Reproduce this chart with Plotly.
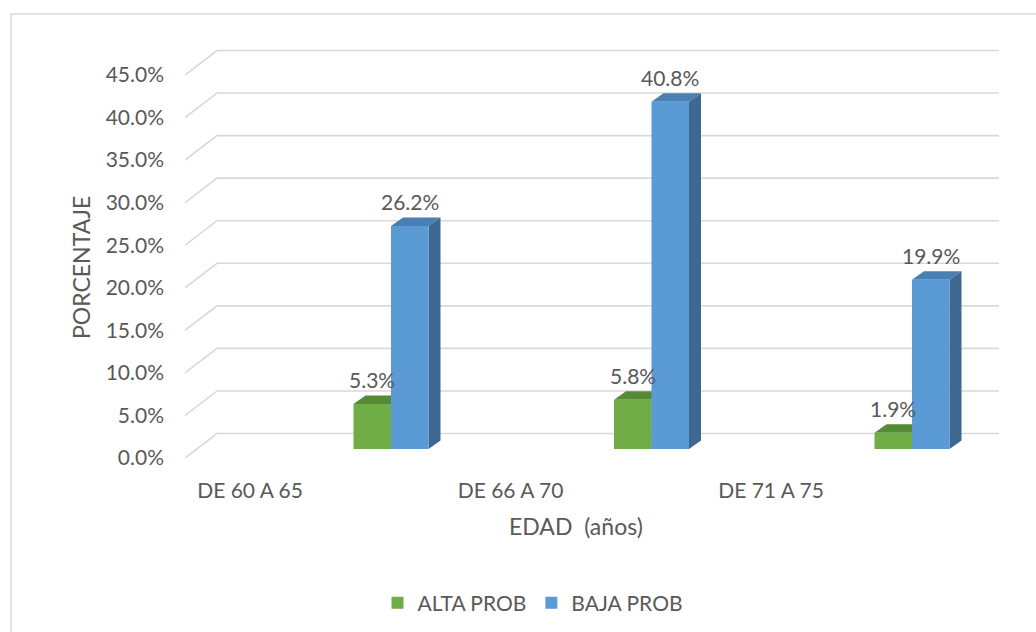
import plotly.graph_objects as go

# ---- data -------------------------------------------------------------
categories = ["DE 60 A 65", "DE 66 A 70", "DE 71 A 75"]
alta_prob = [5.3, 5.8, 1.9]
baja_prob = [26.2, 40.8, 19.9]
y_ticks = [0, 5, 10, 15, 20, 25, 30, 35, 40, 45]

# ---- layout geometry (pixels) ----------------------------------------
W, H = 1036, 632
ML, MR, MT, MB = 185, 37, 48, 174
PLOT_W = W - ML - MR
PLOT_H = H - MT - MB
PX_PER_UNIT = 260.5          # pixels per category step
PX_PER_PCT = 8.511           # pixels per percentage point

X_LEFT = -206 / PX_PER_UNIT
x_range = [X_LEFT, X_LEFT + PLOT_W / PX_PER_UNIT]
y_range = [0, PLOT_H / PX_PER_PCT]


def ux(p):
    return p / PX_PER_UNIT


def uy(p):
    return p / PX_PER_PCT


def paper_x(px):
    return (px - ML) / PLOT_W


def paper_y(py):
    return (H - MB - py) / PLOT_H


WALL_DX, WALL_DY = ux(32), uy(24.5)   # depth of the back wall
BAR_W = ux(37.5)
BAR_BASE = uy(9)
BAR_DX, BAR_DY = ux(12), uy(8.5)      # depth of each column
LABEL_SHIFT = 0.541                   # category label offset on the floor edge

GRID = "#d9d9d9"
TEXT = "#595959"
FONT = "Lato"

series = [
    dict(name="ALTA PROB", values=alta_prob, off=-BAR_W / 2,
         front="#70ad47", top="#578a35", side="#4a7a2b"),
    dict(name="BAJA PROB", values=baja_prob, off=BAR_W / 2,
         front="#5b9bd5", top="#4a7fb3", side="#3c6891"),
]

fig = go.Figure()
shapes = []
annotations = []

# back wall gridlines with their diagonal run on the side wall
for v in y_ticks:
    x0, x1 = x_range
    shapes.append(dict(
        type="path", xref="x", yref="y", layer="below",
        path=f"M{x0},{v} L{x0 + WALL_DX},{v + WALL_DY} L{x1},{v + WALL_DY}",
        line=dict(color=GRID, width=1.6),
    ))

# columns: front faces as bars, top and side faces as shapes
for s in series:
    xs = [i + s["off"] for i in range(len(categories))]
    fig.add_trace(go.Bar(
        x=xs, y=s["values"], base=BAR_BASE, width=BAR_W, name=s["name"],
        marker=dict(color=s["front"], line=dict(width=0)),
    ))
    for xc, v in zip(xs, s["values"]):
        xl, xr = xc - BAR_W / 2, xc + BAR_W / 2
        t = BAR_BASE + v
        shapes.append(dict(
            type="path", xref="x", yref="y", layer="below",
            path=(f"M{xl},{t} L{xr},{t} L{xr + BAR_DX},{t + BAR_DY} "
                  f"L{xl + BAR_DX},{t + BAR_DY} Z"),
            fillcolor=s["top"], line=dict(width=0),
        ))
        shapes.append(dict(
            type="path", xref="x", yref="y", layer="below",
            path=(f"M{xr},{BAR_BASE} L{xr + BAR_DX},{BAR_BASE + BAR_DY} "
                  f"L{xr + BAR_DX},{t + BAR_DY} L{xr},{t} Z"),
            fillcolor=s["side"], line=dict(width=0),
        ))
        annotations.append(dict(
            x=xc, y=t + BAR_DY, xref="x", yref="y", showarrow=False,
            text=f"{v:.1f}%", yanchor="middle", yshift=16,
            font=dict(family=FONT, size=21, color=TEXT),
        ))

# chart frame
shapes.append(dict(
    type="path", xref="paper", yref="paper", layer="below",
    path=(f"M{paper_x(11)},{paper_y(640)} L{paper_x(11)},{paper_y(14)} "
          f"L{paper_x(1040)},{paper_y(14)}"),
    line=dict(color=GRID, width=1.4),
))

# axis titles
annotations.append(dict(
    text="PORCENTAJE", textangle=-90, showarrow=False,
    xref="paper", yref="paper", x=paper_x(81), y=paper_y(268),
    xanchor="center", yanchor="middle",
    font=dict(family=FONT, size=23, color=TEXT),
))
annotations.append(dict(
    text="EDAD\u00a0 (años)", showarrow=False,
    xref="paper", yref="paper", x=paper_x(576), y=paper_y(526),
    xanchor="center", yanchor="middle",
    font=dict(family=FONT, size=23, color=TEXT),
))

fig.update_layout(
    width=W, height=H,
    margin=dict(l=ML, r=MR, t=MT, b=MB, autoexpand=False),
    paper_bgcolor="white", plot_bgcolor="white",
    barmode="overlay",
    font=dict(family=FONT, size=21, color=TEXT),
    shapes=shapes, annotations=annotations,
    showlegend=True,
    legend=dict(
        orientation="h", x=paper_x(533), xanchor="center",
        y=paper_y(603), yanchor="middle",
        font=dict(family=FONT, size=21, color=TEXT),
        itemclick=False, itemdoubleclick=False,
    ),
    xaxis=dict(
        range=x_range, showgrid=False, zeroline=False, showline=False,
        tickvals=[i - LABEL_SHIFT for i in range(len(categories))],
        ticktext=categories, ticks="", ticklabelstandoff=18,
        fixedrange=True,
    ),
    yaxis=dict(
        range=y_range, showgrid=False, zeroline=False, showline=False,
        tickvals=y_ticks, ticktext=[f"{v:.1f}%" for v in y_ticks],
        ticks="", ticklabelstandoff=20, fixedrange=True,
    ),
)

fig.write_html("out.html")
